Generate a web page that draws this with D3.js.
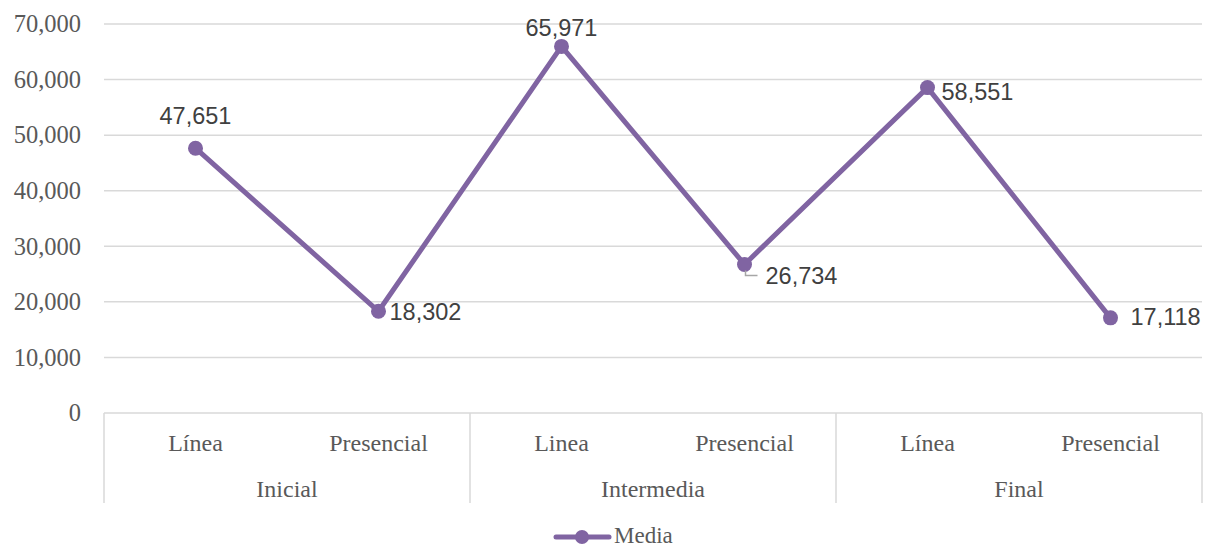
<!DOCTYPE html>
<html><head><meta charset="utf-8">
<script src="https://cdn.jsdelivr.net/npm/d3@7"></script>
<style>body{margin:0;background:#fff}</style>
</head><body>
<svg id="c" width="1213" height="548"></svg>
<script>
const subCategories = ["Línea","Presencial","Linea","Presencial","Línea","Presencial"];
const groups = ["Inicial","Intermedia","Final"];
const groupSizes = [2,2,2];
const seriesName = "Media";
const values = [47651,18302,65971,26734,58551,17118];
const yTicks = [0,10000,20000,30000,40000,50000,60000,70000];
// label placement (dx, dy of baseline relative to point; anchor)
const labelPlace = [
  {dx:0, dy:-24, anchor:"middle"},
  {dx:11, dy:9, anchor:"start"},
  {dx:0, dy:-10, anchor:"middle"},
  {dx:21, dy:20, anchor:"start", leader:true},
  {dx:14, dy:12, anchor:"start"},
  {dx:20, dy:7, anchor:"start"}
];

const svg = d3.select("#c");
const plotL = 104, plotR = 1202, plotT = 24, plotB = 413;
const color = "#8064A2", grid = "#d9d9d9";
const serif = "'Liberation Serif', serif", sans = "'Liberation Sans', Arial, sans-serif";

const y = d3.scaleLinear().domain([0,70000]).range([plotB, plotT]);
const x = d3.scaleBand().domain(d3.range(values.length)).range([plotL, plotR]).padding(0);
const fmt = d3.format(",");

// gridlines
svg.append("g").selectAll("line").data(yTicks.filter(d=>d>0)).join("line")
  .attr("x1", plotL).attr("x2", plotR).attr("y1", d=>y(d)).attr("y2", d=>y(d))
  .attr("stroke", grid).attr("stroke-width", 1.5);

// y tick labels
svg.append("g").selectAll("text").data(yTicks).join("text")
  .attr("x", 81).attr("y", d=>y(d)).attr("dy","0.34em")
  .attr("text-anchor","end").attr("font-family", serif).attr("font-size", 24.5)
  .attr("fill","#595959").text(d=>fmt(d));

// category axis
svg.append("line").attr("x1", plotL).attr("x2", plotR).attr("y1", plotB).attr("y2", plotB)
  .attr("stroke", grid).attr("stroke-width", 1.5);
let bounds = [0]; groupSizes.forEach(s => bounds.push(bounds[bounds.length-1]+s));
const bx = d => d < values.length ? x(d) : plotR;
svg.append("g").selectAll("line").data(bounds).join("line")
  .attr("x1", bx).attr("x2", bx)
  .attr("y1", plotB).attr("y2", 503).attr("stroke", grid).attr("stroke-width", 1.5);
svg.append("g").selectAll("text").data(subCategories).join("text")
  .attr("x", (d,i)=>x(i)+x.bandwidth()/2).attr("y", 451)
  .attr("text-anchor","middle").attr("font-family", serif).attr("font-size", 24)
  .attr("fill","#595959").text(d=>d);
svg.append("g").selectAll("text").data(groups).join("text")
  .attr("x", (d,i)=> (bx(bounds[i]) + bx(bounds[i+1]))/2)
  .attr("y", 497)
  .attr("text-anchor","middle").attr("font-family", serif).attr("font-size", 24)
  .attr("fill","#595959").text(d=>d);

// line
const line = d3.line().x((d,i)=>x(i)+x.bandwidth()/2).y(d=>y(d));
svg.append("path").datum(values).attr("d", line).attr("fill","none")
  .attr("stroke", color).attr("stroke-width", 5).attr("stroke-linejoin","round").attr("stroke-linecap","round");
svg.append("g").selectAll("circle").data(values).join("circle")
  .attr("cx",(d,i)=>x(i)+x.bandwidth()/2).attr("cy", d=>y(d)).attr("r", 7.5).attr("fill", color);

// leader lines
values.forEach((v,i)=>{
  const p = labelPlace[i];
  if (p.leader) {
    const cx = x(i)+x.bandwidth()/2, cy = y(v);
    svg.append("path").attr("d", `M${cx+1},${cy+6}V${cy+11}H${cx+13}`)
      .attr("fill","none").attr("stroke","#a6a6a6").attr("stroke-width",1.5);
  }
});

// data labels
svg.append("g").selectAll("text").data(values).join("text")
  .attr("x",(d,i)=>x(i)+x.bandwidth()/2+labelPlace[i].dx)
  .attr("y",(d,i)=>y(d)+labelPlace[i].dy)
  .attr("text-anchor",(d,i)=>labelPlace[i].anchor)
  .attr("font-family", sans).attr("font-size", 23.5).attr("fill","#404040")
  .text(d=>fmt(d));

// legend
const lg = svg.append("g");
lg.append("line").attr("x1",556).attr("x2",609).attr("y1",537).attr("y2",537)
  .attr("stroke",color).attr("stroke-width",5).attr("stroke-linecap","round");
lg.append("circle").attr("cx",582).attr("cy",537).attr("r",7).attr("fill",color);
lg.append("text").attr("x",614).attr("y",542.5).attr("font-family",serif).attr("font-size",23)
  .attr("fill","#595959").text(seriesName);
</script>
</body></html>
